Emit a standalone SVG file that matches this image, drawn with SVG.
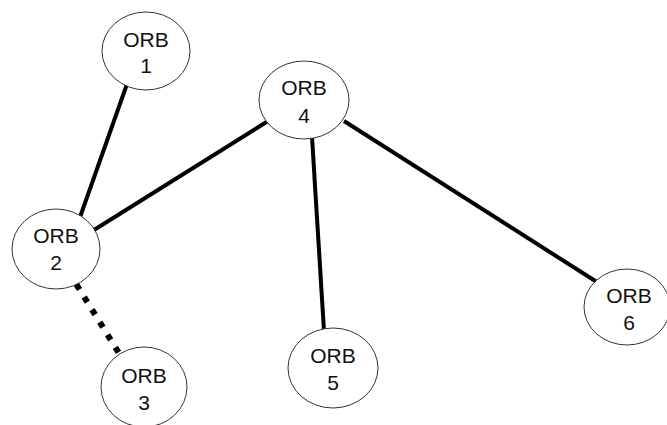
<svg xmlns="http://www.w3.org/2000/svg" width="667" height="425" viewBox="0 0 667 425">
<style>
.node ellipse{fill:#fff;stroke:#333;stroke-width:1}
.node text{font-family:"Liberation Sans",Arial,sans-serif;font-size:21px;fill:#111;text-anchor:middle}
.edge{stroke:#000;stroke-width:4;fill:none}
.dotted{stroke:#000;stroke-width:6;stroke-dasharray:6 8.8;fill:none}
</style>
<rect width="667" height="425" fill="#fff"/>
<g id="connectors">
<line class="edge" x1="127" y1="84" x2="79" y2="220"/>
<line class="edge" x1="94" y1="230" x2="268" y2="121"/>
<line class="edge" x1="312" y1="137" x2="324" y2="331"/>
<line class="edge" x1="344" y1="121" x2="600" y2="284"/>
<line class="dotted" x1="76.4" y1="284.4" x2="118.6" y2="352.6"/>
</g>
<g id="orb1" class="node"><ellipse cx="146" cy="51" rx="44" ry="39"/><text x="146" y="47">ORB</text><text x="146" y="73">1</text></g>
<g id="orb2" class="node"><ellipse cx="56" cy="249" rx="44" ry="40"/><text x="56" y="243">ORB</text><text x="56" y="270">2</text></g>
<g id="orb3" class="node"><ellipse cx="144" cy="387" rx="43" ry="40"/><text x="144" y="383">ORB</text><text x="144" y="410">3</text></g>
<g id="orb4" class="node"><ellipse cx="304" cy="100" rx="45" ry="39"/><text x="304" y="95">ORB</text><text x="304" y="123">4</text></g>
<g id="orb5" class="node"><ellipse cx="333" cy="368" rx="45" ry="40"/><text x="333" y="363">ORB</text><text x="333" y="390">5</text></g>
<g id="orb6" class="node"><ellipse cx="627" cy="307" rx="43" ry="38"/><text x="629" y="303">ORB</text><text x="629" y="330">6</text></g>
</svg>
